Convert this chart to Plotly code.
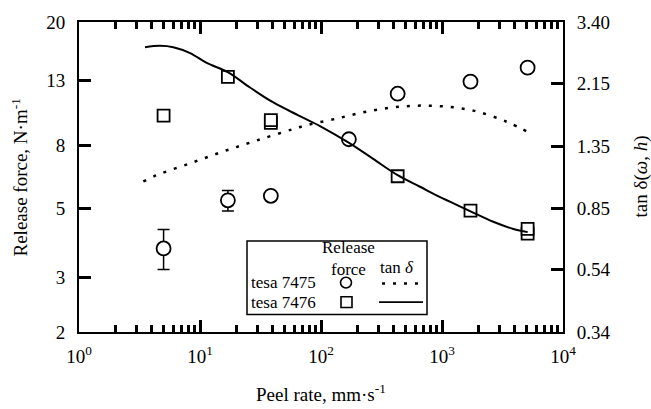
import numpy as np
import plotly.graph_objects as go

# ---------------- data ----------------
# tesa 7475 release force (circles), N/m
rate_7475 = [5, 17, 38.5, 170, 430, 1720, 5100]
force_7475 = [3.72, 5.32, 5.50, 8.37, 11.74, 12.84, 14.25]
err_plus_7475 = [0.56, 0.40, 0, 0, 0, 0, 0]
err_minus_7475 = [0.54, 0.41, 0, 0, 0, 0, 0]

# tesa 7476 release force (squares), N/m
rate_7476 = [5, 17, 38.5, 38.5, 430, 1720, 5100, 5100]
force_7476 = [9.98, 13.3, 9.45, 9.65, 6.36, 4.93, 4.15, 4.30]

# tan delta curves
tan_rate_7475 = [3.40, 4.38, 8.27, 15.6, 29.4, 57.3, 71.4, 135, 262, 511, 962, 1815, 3428, 5333]
tan_7475 = [1.04, 1.09, 1.19, 1.30, 1.41, 1.53, 1.57, 1.66, 1.76, 1.82, 1.82, 1.76, 1.62, 1.49]
tan_rate_7476 = [3.51, 4.67, 6.02, 8.27, 11.36, 17.1, 25.9, 40.4, 64.9, 98.1, 168, 270, 430,
                 658, 1026, 1702, 2654, 3883, 5109]
tan_7476 = [2.82, 2.85, 2.82, 2.70, 2.51, 2.34, 2.09, 1.87, 1.70, 1.57, 1.39, 1.23, 1.09,
            1.00, 0.915, 0.835, 0.771, 0.731, 0.714]

x_major = [1, 10, 100, 1000, 10000]
x_major_text = ["10<sup>0</sup>", "10<sup>1</sup>", "10<sup>2</sup>", "10<sup>3</sup>", "10<sup>4</sup>"]
x_minor = [m * 10 ** d for d in range(4) for m in range(2, 10)]
left_ticks = [2, 3, 5, 8, 13, 20]
right_ticks = [0.34, 0.54, 0.85, 1.35, 2.15, 3.40]
right_text = ["0.34", "0.54", "0.85", "1.35", "2.15", "3.40"]

FONT = "Liberation Serif"
W, H = 651, 409
L, R, T, B = 79, 88, 15, 77
PW, PH = W - L - R, H - T - B


def px(X):
    return (X - L) / PW


def py(Y):
    return (H - B - Y) / PH


fig = go.Figure()

fig.add_trace(go.Scatter(
    x=tan_rate_7475, y=tan_7475, yaxis="y2", mode="lines",
    line=dict(color="black", width=2.5, dash="3px,8px", shape="spline"),
    showlegend=False))
fig.add_trace(go.Scatter(
    x=tan_rate_7476, y=tan_7476, yaxis="y2", mode="lines",
    line=dict(color="black", width=2, shape="spline"),
    showlegend=False))
fig.add_trace(go.Scatter(
    x=rate_7476, y=force_7476, mode="markers",
    marker=dict(symbol="square", size=12, color="white", line=dict(color="black", width=1.8)),
    showlegend=False))
fig.add_trace(go.Scatter(
    x=rate_7475, y=force_7475, mode="markers",
    marker=dict(symbol="circle", size=14, color="white", line=dict(color="black", width=1.8)),
    error_y=dict(type="data", array=err_plus_7475, arrayminus=err_minus_7475,
                 color="black", thickness=1.5, width=6),
    showlegend=False))
# invisible trace to activate the top axis
fig.add_trace(go.Scatter(x=[1, 10000], y=[2, 2], xaxis="x2", mode="markers",
                         marker=dict(opacity=0), hoverinfo="skip", showlegend=False))

# ---------------- legend box (drawn) ----------------
shapes = [
    dict(type="rect", xref="paper", yref="paper", x0=px(247), x1=px(427), y0=py(314), y1=py(239),
         line=dict(color="black", width=1.5), fillcolor="white", layer="above"),
    dict(type="circle", xref="paper", yref="paper", x0=px(340.5), x1=px(351.5), y0=py(287), y1=py(276),
         line=dict(color="black", width=1.6), fillcolor="white", layer="above"),
    dict(type="rect", xref="paper", yref="paper", x0=px(341), x1=px(352), y0=py(307), y1=py(296),
         line=dict(color="black", width=1.6), fillcolor="white", layer="above"),
    dict(type="line", xref="paper", yref="paper", x0=px(382), x1=px(420), y0=py(282.5), y1=py(282.5),
         line=dict(color="black", width=2.5, dash="3px,8px"), layer="above"),
    dict(type="line", xref="paper", yref="paper", x0=px(379), x1=px(423), y0=py(301.5), y1=py(301.5),
         line=dict(color="black", width=1.8), layer="above"),
]


def note(text, X, Y, size=17, xanchor="center", angle=0):
    return dict(text=text, x=px(X), y=py(Y), xref="paper", yref="paper",
                xanchor=xanchor, yanchor="middle", textangle=angle, showarrow=False,
                font=dict(size=size, family=FONT, color="black"), align="center")


ann = [
    note("Release<br>force", 348, 256.5),
    note("tan <i>δ</i>", 397, 266.5),
    note("tesa 7475", 249, 281.5, xanchor="left"),
    note("tesa 7476", 249, 301.5, xanchor="left"),
    note("Release force, N·m<sup>-1</sup>", 20, 174, size=19, angle=-90),
    note("tan δ(<i>ω</i>, <i>h</i>)", 641, 173, size=19, angle=-90),
    note("Peel rate, mm·s<sup>-1</sup>", 321, 394, size=19),
]

TF = dict(size=19, family=FONT, color="black")
MAJ = 12
minor_x = dict(ticks="inside", ticklen=7, tickwidth=2.5, tickcolor="black",
               tickmode="array", tickvals=x_minor)

fig.update_layout(
    width=W, height=H,
    margin=dict(l=L, r=R, t=T, b=B),
    paper_bgcolor="white", plot_bgcolor="white",
    showlegend=False,
    shapes=shapes, annotations=ann,
    xaxis=dict(type="log", range=[0, 4], tickmode="array", tickvals=x_major, ticktext=x_major_text,
               ticks="inside", ticklen=MAJ, tickwidth=3, tickcolor="black",
               showline=True, linecolor="black", linewidth=2,
               tickfont=TF, ticklabelstandoff=6, minor=minor_x),
    xaxis2=dict(type="log", range=[0, 4], overlaying="x", side="top", anchor="y",
                tickmode="array", tickvals=x_major, showticklabels=False,
                ticks="inside", ticklen=MAJ, tickwidth=3, tickcolor="black",
                showline=True, linecolor="black", linewidth=2,
                minor=minor_x),
    yaxis=dict(type="log", range=[np.log10(2), np.log10(20)], tickmode="array",
               tickvals=left_ticks, ticktext=[str(v) for v in left_ticks],
               ticks="inside", ticklen=MAJ, tickwidth=3, tickcolor="black",
               showline=True, linecolor="black", linewidth=2,
               tickfont=TF, ticklabelstandoff=8),
    yaxis2=dict(type="log", range=[np.log10(0.34), np.log10(3.4)], overlaying="y", side="right",
                tickmode="array", tickvals=right_ticks, ticktext=right_text,
                ticks="inside", ticklen=MAJ, tickwidth=3, tickcolor="black",
                showline=True, linecolor="black", linewidth=2, showgrid=False,
                tickfont=TF, ticklabelstandoff=8),
)
fig.update_xaxes(showgrid=False)
fig.update_yaxes(showgrid=False)

fig.write_html("out.html")
